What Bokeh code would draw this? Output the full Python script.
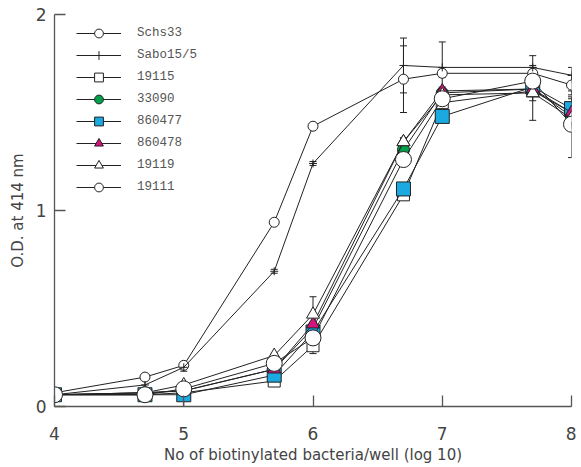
from bokeh.plotting import figure
from bokeh.models import Whisker, ColumnDataSource, FixedTicker, TeeHead, Range1d
from bokeh.embed import file_html
from bokeh.resources import INLINE

x = [4, 4.7, 5, 5.7, 6, 6.7, 7, 7.7, 8]

names = ["Schs33", "Sabo15/5", "19115", "33090", "860477", "860478", "19119", "19111"]

schs33 = [0.07, 0.15, 0.21, 0.94, 1.43, 1.67, 1.70, 1.70, 1.64]
sabo15_5 = [0.06, 0.11, 0.20, 0.69, 1.24, 1.74, 1.73, 1.73, 1.69]
s19115 = [0.06, 0.06, 0.07, 0.13, 0.31, 1.08, 1.55, 1.61, 1.50]
s33090 = [0.06, 0.07, 0.08, 0.19, 0.40, 1.31, 1.60, 1.62, 1.48]
s860477 = [0.06, 0.06, 0.06, 0.16, 0.38, 1.11, 1.48, 1.63, 1.52]
s860478 = [0.06, 0.07, 0.08, 0.19, 0.42, 1.35, 1.61, 1.62, 1.50]
s19119 = [0.06, 0.07, 0.11, 0.26, 0.47, 1.35, 1.59, 1.60, 1.47]
s19111 = [0.06, 0.06, 0.09, 0.22, 0.35, 1.26, 1.57, 1.66, 1.44]

err_schs33 = [0, 0.01, 0.01, 0.01, 0.01, 0.17, 0.02, 0.03, 0.05]
err_sabo15_5 = [0, 0.03, 0.02, 0.01, 0.01, 0.14, 0.13, 0.06, 0.04]
err_19115 = [0, 0, 0, 0.02, 0.04, 0.02, 0.03, 0.05, 0.08]
err_33090 = [0, 0, 0, 0.01, 0.01, 0.02, 0.02, 0.03, 0.03]
err_860477 = [0, 0, 0.06, 0.02, 0.02, 0.02, 0.03, 0.04, 0.05]
err_860478 = [0, 0, 0, 0.01, 0.01, 0.02, 0.02, 0.03, 0.03]
err_19119 = [0, 0, 0, 0.01, 0.09, 0.02, 0.02, 0.14, 0.03]
err_19111 = [0, 0, 0, 0.01, 0.02, 0.02, 0.03, 0.06, 0.17]

x_ticks = [4, 5, 6, 7, 8]
y_ticks = [0, 1, 2]

series = [schs33, sabo15_5, s19115, s33090, s860477, s860478, s19119, s19111]
errors = [err_schs33, err_sabo15_5, err_19115, err_33090, err_860477, err_860478, err_19119, err_19111]
styles = [
    dict(marker="circle", size=10, fill_color="white"),
    dict(marker="cross", size=8, fill_color="black"),
    dict(marker="square", size=12, fill_color="white"),
    dict(marker="circle", size=12, fill_color="#00a04a"),
    dict(marker="square", size=14, fill_color="#1ba9e2"),
    dict(marker="triangle", size=13, fill_color="#d8127c"),
    dict(marker="triangle", size=13, fill_color="white"),
    dict(marker="circle", size=16, fill_color="white"),
]

TEXT = "#444444"
FONT = "DejaVu Sans"

p = figure(frame_width=517, frame_height=392, x_range=Range1d(4, 8), y_range=Range1d(0, 2),
           output_backend="svg", toolbar_location=None,
           min_border_left=54, min_border_right=5, min_border_top=14, min_border_bottom=48)
p.grid.visible = False
p.outline_line_color = None

for name, ys, err, st in zip(names, series, errors, styles):
    xs = [xv for xv, e in zip(x, err) if e > 0]
    up = [yv + e for yv, e in zip(ys, err) if e > 0]
    lo = [yv - e for yv, e in zip(ys, err) if e > 0]
    src = ColumnDataSource(dict(base=xs, upper=up, lower=lo))
    w = Whisker(source=src, base="base", upper="upper", lower="lower", dimension="height",
                line_color="#222222", line_width=1,
                upper_head=TeeHead(size=7, line_color="#222222", line_width=1),
                lower_head=TeeHead(size=7, line_color="#222222", line_width=1))
    p.add_layout(w)

for name, ys, st in zip(names, series, styles):
    p.line(x, ys, line_color="#222222", line_width=1, legend_label=name)
    p.scatter(x, ys, marker=st["marker"], size=st["size"], fill_color=st["fill_color"],
              line_color="#222222", line_width=1, legend_label=name)

for ax in (p.xaxis[0], p.yaxis[0]):
    ax.major_tick_in = 11
    ax.major_tick_out = 0
    ax.minor_tick_line_color = None
    ax.axis_line_color = "#555555"
    ax.axis_line_width = 1.3
    ax.major_tick_line_color = "#555555"
    ax.major_tick_line_width = 1.3
    ax.major_label_text_font = FONT
    ax.major_label_text_font_size = "17px"
    ax.major_label_text_color = TEXT
    ax.axis_label_text_font = FONT
    ax.axis_label_text_font_size = "15px"
    ax.axis_label_text_font_style = "normal"
    ax.axis_label_text_color = TEXT

p.xaxis.ticker = FixedTicker(ticks=x_ticks)
p.yaxis.ticker = FixedTicker(ticks=y_ticks)
p.xaxis.axis_label = "No of biotinylated bacteria/well (log 10)"
p.yaxis.axis_label = "O.D. at 414 nm"
p.xaxis.major_label_standoff = 20
p.xaxis.axis_label_standoff = 3
p.yaxis.major_label_standoff = 8
p.yaxis.axis_label_standoff = 6

lg = p.legend[0]
lg.location = (22, 208)
lg.padding = 0
lg.margin = 0
lg.spacing = 0
lg.glyph_width = 45
lg.glyph_height = 22
lg.label_height = 22
lg.label_standoff = 16
lg.label_text_font = "Liberation Mono"
lg.label_text_font_size = "12.5px"
lg.label_text_color = "#555555"
lg.background_fill_alpha = 0
lg.border_line_alpha = 0

open("out.html", "w").write(file_html(p, INLINE))
